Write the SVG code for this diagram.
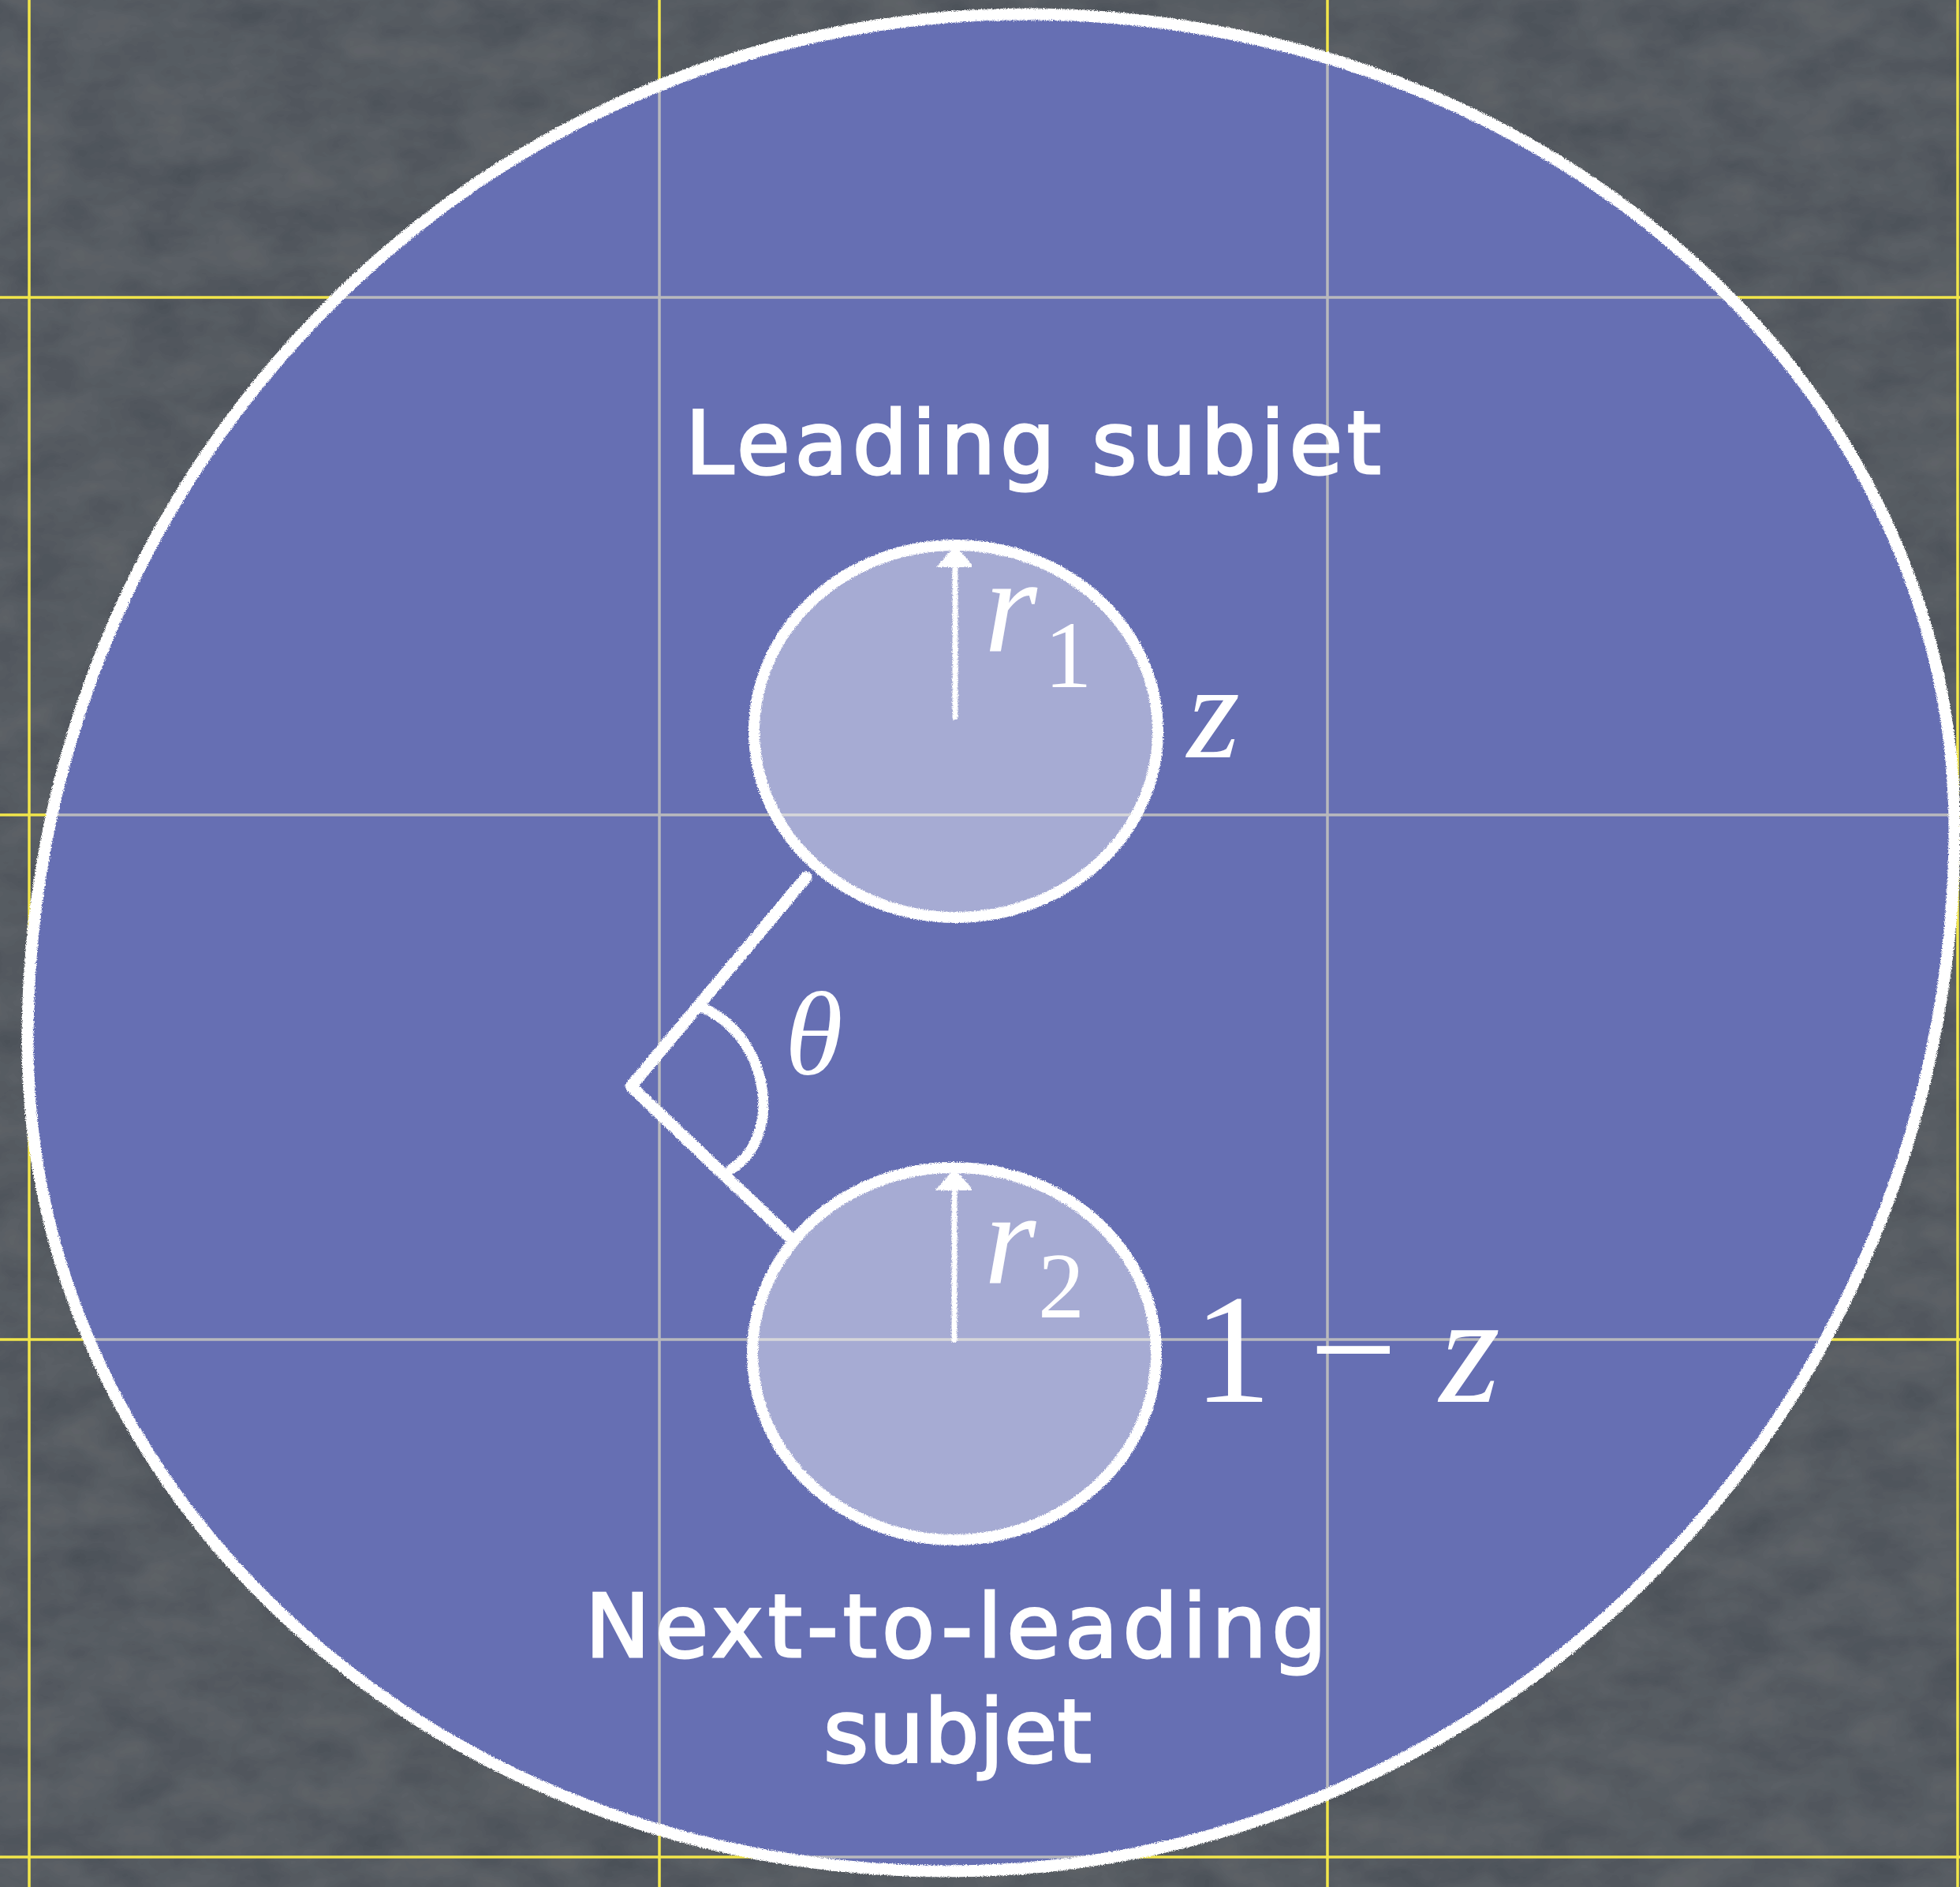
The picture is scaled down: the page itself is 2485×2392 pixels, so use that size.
<svg xmlns="http://www.w3.org/2000/svg" width="2485" height="2392" viewBox="0 0 2485 2392">
  <defs>
    <style>
      .grid-y { stroke: #f2e64a; stroke-width: 3.5; fill: none; }
      .grid-g { stroke: #b9b9bd; stroke-width: 3.5; fill: none; }
      .chalk { stroke: #ffffff; stroke-linecap: round; stroke-linejoin: round; fill: none; }
      .sub { fill: #ffffff; fill-opacity: 0.42; stroke: #ffffff; stroke-width: 14; }
      .hand { font-family: "DejaVu Sans", "Noto Sans", sans-serif; fill: #ffffff; stroke: #ffffff; stroke-width: 3; font-size: 110px; }
      .math { font-family: "Liberation Serif", "Times New Roman", serif; fill: #ffffff; }
      .it { font-style: italic; }
    </style>
    <filter id="rough" x="-5%" y="-5%" width="110%" height="110%">
      <feTurbulence type="fractalNoise" baseFrequency="0.9" numOctaves="2" seed="3" result="n"/>
      <feDisplacementMap in="SourceGraphic" in2="n" scale="5" xChannelSelector="R" yChannelSelector="G"/>
    </filter>
    <filter id="grain" x="0" y="0" width="100%" height="100%">
      <feTurbulence type="fractalNoise" baseFrequency="0.012 0.02" numOctaves="4" seed="7" result="t"/>
      <feColorMatrix in="t" type="matrix" values="0 0 0 0 1  0 0 0 0 1  0 0 0 0 1  0 0 0 0.06 0" result="w"/>
      <feComposite in="w" in2="SourceGraphic" operator="in" result="wm"/>
      <feMerge><feMergeNode in="SourceGraphic"/><feMergeNode in="wm"/></feMerge>
    </filter>
    <clipPath id="bigClip">
      <path d="M1300,18 C1951,18 2478,480 2478,1050 C2478,1780 1906,2372 1200,2372 C557,2372 35,1901 35,1320 C35,601 601,18 1300,18 Z"/>
    </clipPath>
    <marker id="head" viewBox="0 0 4 7" refX="3.6" refY="3.5" markerWidth="4" markerHeight="7" orient="auto" markerUnits="strokeWidth">
      <path d="M0,0 L4,3.5 L0,7 Z" fill="#ffffff"/>
    </marker>
  </defs>

  <rect id="board" x="0" y="0" width="2485" height="2392" fill="#4a5056" filter="url(#grain)"/>

  <g id="grid-outside">
    <line class="grid-y" x1="37" y1="0" x2="37" y2="2392"/>
    <line class="grid-y" x1="836" y1="0" x2="836" y2="2392"/>
    <line class="grid-y" x1="1683" y1="0" x2="1683" y2="2392"/>
    <line class="grid-y" x1="2482" y1="0" x2="2482" y2="2392"/>
    <line class="grid-y" x1="0" y1="377" x2="2485" y2="377"/>
    <line class="grid-y" x1="0" y1="1033" x2="2485" y2="1033"/>
    <line class="grid-y" x1="0" y1="1698" x2="2485" y2="1698"/>
    <line class="grid-y" x1="0" y1="2354" x2="2485" y2="2354"/>
  </g>

  <g id="jet">
    <path d="M1300,18 C1951,18 2478,480 2478,1050 C2478,1780 1906,2372 1200,2372 C557,2372 35,1901 35,1320 C35,601 601,18 1300,18 Z" fill="#666fb3"/>
    <g id="grid-inside" clip-path="url(#bigClip)">
      <line class="grid-g" x1="37" y1="0" x2="37" y2="2392"/>
      <line class="grid-g" x1="836" y1="0" x2="836" y2="2392"/>
      <line class="grid-g" x1="1683" y1="0" x2="1683" y2="2392"/>
      <line class="grid-g" x1="2482" y1="0" x2="2482" y2="2392"/>
      <line class="grid-g" x1="0" y1="377" x2="2485" y2="377"/>
      <line class="grid-g" x1="0" y1="1033" x2="2485" y2="1033"/>
      <line class="grid-g" x1="0" y1="1698" x2="2485" y2="1698"/>
      <line class="grid-g" x1="0" y1="2354" x2="2485" y2="2354"/>
    </g>
    <path class="chalk" stroke-width="15" filter="url(#rough)" d="M1300,18 C1951,18 2478,480 2478,1050 C2478,1780 1906,2372 1200,2372 C557,2372 35,1901 35,1320 C35,601 601,18 1300,18 Z"/>
  </g>

  <g id="leading-subjet">
    <ellipse class="sub" cx="1212" cy="927" rx="256" ry="236" filter="url(#rough)"/>
    <text class="hand" x="869" y="600" textLength="882" lengthAdjust="spacing">Leading subjet</text>
  </g>

  <g id="next-to-leading-subjet">
    <ellipse class="sub" cx="1210" cy="1716" rx="256" ry="236" filter="url(#rough)"/>
    <text class="hand" x="742" y="2100" textLength="940" lengthAdjust="spacing">Next-to-leading</text>
    <text class="hand" x="1044" y="2233" textLength="340" lengthAdjust="spacing">subjet</text>
  </g>

  <g id="connectors" filter="url(#rough)">
    <line class="chalk" stroke-width="7" x1="1211" y1="909" x2="1211" y2="694" marker-end="url(#head)"/>
    <line class="chalk" stroke-width="7" x1="1210" y1="1698" x2="1210" y2="1484" marker-end="url(#head)"/>
    <path class="chalk" stroke-width="15" d="M1022,1112 L800,1377 L1003,1570"/>
    <path class="chalk" stroke-width="13" d="M887,1276 C975,1310 995,1440 927,1482"/>
  </g>

  <g id="labels">
    <text class="math it" x="1248" y="825" font-size="172">r</text>
    <text class="math" x="1324" y="871" font-size="121">1</text>
    <text class="math it" x="1505" y="960" font-size="172">z</text>
    <text class="math it" x="995" y="1362" font-size="150">θ</text>
    <text class="math it" x="1248" y="1627" font-size="168">r</text>
    <text class="math" x="1316" y="1670" font-size="118">2</text>
    <text class="math" x="1513" y="1777" font-size="198">1</text>
    <text class="math" x="1660" y="1777" font-size="198">−</text>
    <text class="math it" x="1825" y="1777" font-size="198">z</text>
  </g>
</svg>
